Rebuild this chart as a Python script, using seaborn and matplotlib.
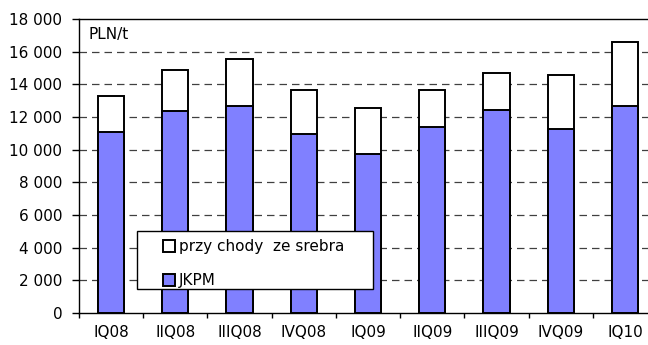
import matplotlib
matplotlib.use("Agg")
import matplotlib.pyplot as plt
from matplotlib.patches import Patch, Rectangle
from matplotlib.ticker import FuncFormatter, FixedLocator
import numpy as np
import pandas as pd
import seaborn as sns

quarters = ["IQ08", "IIQ08", "IIIQ08", "IVQ08", "IQ09", "IIQ09", "IIIQ09", "IVQ09", "IQ10"]
jkpm = [11100, 12350, 12650, 10950, 9750, 11400, 12450, 11250, 12650]
silver = [2200, 2550, 2900, 2700, 2800, 2250, 2250, 3350, 3950]
legend_labels = ["przy chody  ze srebra", "JKPM"]
unit_label = "PLN/t"

total = [j + s for j, s in zip(jkpm, silver)]
df = pd.DataFrame({"kwartal": quarters, "JKPM": jkpm, "razem": total})

sns.set_theme(style="white")
plt.rcParams["font.family"] = ["DejaVu Sans"]
plt.rcParams["font.size"] = 11
plt.rcParams["text.color"] = "black"
plt.rcParams["legend.labelcolor"] = "black"

W, H = 648, 345
blue = "#8080FF"
fig = plt.figure(figsize=(W / 100, H / 100), dpi=100)

# plot area in pixels: left 79, bottom 313, top 19, category pitch 64.2
ax_l, ax_r, ax_t, ax_b = 79, 657, 19, 313
ax = fig.add_axes([ax_l / W, (H - ax_b) / H, (ax_r - ax_l) / W, (ax_b - ax_t) / H])


def ax_x(px):
    return (px - ax_l) / (ax_r - ax_l)


def ax_y(py):
    return (ax_b - py) / (ax_b - ax_t)


bar_kw = dict(width=0.41, edgecolor="black", linewidth=1.4, zorder=3)
sns.barplot(data=df, x="kwartal", y="razem", color="white", saturation=1, ax=ax, **bar_kw)
sns.barplot(data=df, x="kwartal", y="JKPM", color=blue, saturation=1, ax=ax, **bar_kw)

ax.set_xlim(-0.5, len(quarters) - 0.5)
ax.set_ylim(0, 18000)
ax.set_xlabel("")
ax.set_ylabel("")

# y axis with space as thousands separator
ax.yaxis.set_major_locator(FixedLocator(np.arange(0, 18001, 2000)))
ax.yaxis.set_major_formatter(FuncFormatter(lambda v, p: f"{int(v):,}".replace(",", " ")))
for yv in range(2000, 18000, 2000):
    ax.axhline(yv, color="#404040", linewidth=0.9, linestyle=(0, (6, 4)), zorder=1)

# x axis: tick marks between categories, labels centred under bars
ax.set_xticks(np.arange(-0.5, len(quarters) + 0.5, 1.0))
ax.set_xticklabels([])
ax.set_xticks(np.arange(len(quarters)), minor=True)
ax.set_xticklabels(quarters, minor=True)
ax.tick_params(axis="x", which="major", direction="out", length=3.5, width=1, color="black", bottom=True)
ax.tick_params(axis="x", which="minor", length=0, pad=8.5, labelsize=11, colors="black")
ax.tick_params(axis="y", which="major", direction="out", length=5, width=1, color="black",
               left=True, pad=7, labelsize=11, labelcolor="black")

for side in ["left", "bottom", "top"]:
    ax.spines[side].set_visible(True)
    ax.spines[side].set_color("black")
    ax.spines[side].set_linewidth(1.0)
ax.spines["right"].set_visible(False)
ax.grid(False)

ax.text(ax_x(89), ax_y(39), unit_label, transform=ax.transAxes, fontsize=11,
        va="baseline", ha="left", color="black")

# legend box
frame = Rectangle((ax_x(137), ax_y(289)), ax_x(373) - ax_x(137), ax_y(231) - ax_y(289),
                  transform=ax.transAxes, facecolor="white", edgecolor="black",
                  linewidth=1.0, zorder=5)
ax.add_patch(frame)
handles = [Patch(facecolor="white", edgecolor="black", linewidth=1.4),
           Patch(facecolor=blue, edgecolor="black", linewidth=1.4)]
leg = ax.legend(handles, legend_labels, loc="upper left",
                bbox_to_anchor=(ax_x(163), ax_y(239)),
                frameon=False, fontsize=11, borderpad=0, borderaxespad=0,
                handlelength=0.8, handleheight=0.8, handletextpad=0.25,
                labelspacing=1.25, labelcolor="black")
leg.set_zorder(6)

fig.savefig("out.png", dpi=100)
